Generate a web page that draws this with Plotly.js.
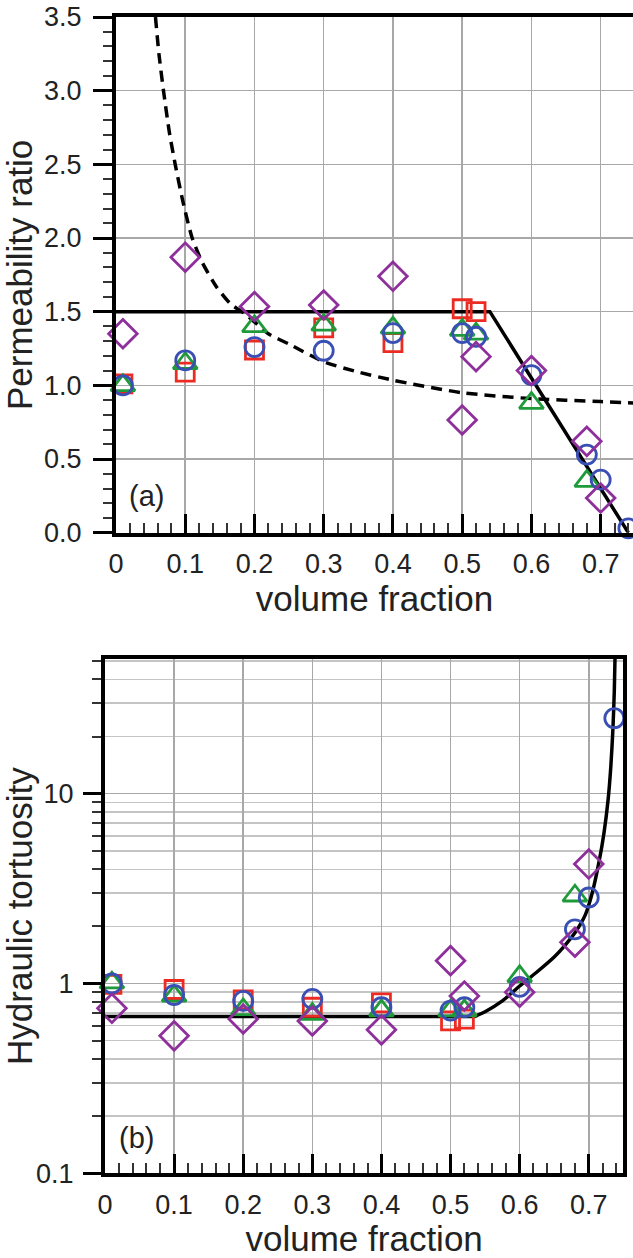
<!DOCTYPE html>
<html>
<head>
<meta charset="utf-8">
<script src="https://cdn.plot.ly/plotly-3.0.1.min.js"></script>
<style>
  html, body { margin: 0; padding: 0; background: #fff; }
  #chart { width: 633px; height: 1258px; }
</style>
</head>
<body>
<div id="chart"></div>
<script>
// ---------- (a) Permeability ratio ----------
const permRedX    = [0.01, 0.1, 0.2, 0.3, 0.4, 0.5, 0.52];
const permRedY    = [1.01, 1.09, 1.24, 1.39, 1.29, 1.52, 1.50];
const permGreenX  = [0.01, 0.1, 0.2, 0.3, 0.4, 0.5, 0.52, 0.6, 0.68];
const permGreenY  = [1.00, 1.15, 1.40, 1.41, 1.39, 1.375, 1.35, 0.88, 0.35];
const permBlueX   = [0.01, 0.1, 0.2, 0.3, 0.4, 0.5, 0.52, 0.6, 0.68, 0.70, 0.74];
const permBlueY   = [1.00, 1.17, 1.26, 1.235, 1.355, 1.355, 1.33, 1.07, 0.53, 0.36, 0.03];
const permPurpleX = [0.01, 0.1, 0.2, 0.3, 0.4, 0.5, 0.52, 0.6, 0.68, 0.70];
const permPurpleY = [1.35, 1.87, 1.535, 1.545, 1.74, 0.765, 1.195, 1.10, 0.62, 0.235];

// solid model line and dashed model curve
const permSolidX = [0.0, 0.54, 0.74];
const permSolidY = [1.5, 1.5, 0.0];
const permDashX  = [0.057, 0.062, 0.0686, 0.077, 0.0855, 0.097, 0.11, 0.125, 0.145, 0.165, 0.188, 0.22, 0.25, 0.30, 0.35, 0.40, 0.50, 0.60, 0.70, 0.75];
const permDashY  = [3.5, 3.25, 3.0, 2.72, 2.5, 2.24, 2.0, 1.83, 1.67, 1.555, 1.48, 1.35, 1.28, 1.16, 1.09, 1.035, 0.95, 0.91, 0.89, 0.88];

// ---------- (b) Hydraulic tortuosity ----------
const tortRedX    = [0.01, 0.1, 0.2, 0.3, 0.4, 0.5, 0.52];
const tortRedY    = [0.99, 0.93, 0.82, 0.75, 0.79, 0.635, 0.65];
const tortGreenX  = [0.01, 0.1, 0.2, 0.3, 0.4, 0.5, 0.52, 0.6, 0.68];
const tortGreenY  = [1.01, 0.86, 0.73, 0.69, 0.72, 0.72, 0.72, 1.09, 2.9];
const tortBlueX   = [0.01, 0.1, 0.2, 0.3, 0.4, 0.5, 0.52, 0.6, 0.68, 0.70, 0.737];
const tortBlueY   = [1.00, 0.87, 0.81, 0.83, 0.75, 0.72, 0.75, 0.96, 1.93, 2.84, 25];
const tortPurpleX = [0.01, 0.1, 0.2, 0.3, 0.4, 0.5, 0.52, 0.6, 0.68, 0.70];
const tortPurpleY = [0.74, 0.53, 0.65, 0.635, 0.57, 1.32, 0.86, 0.90, 1.65, 4.26];

// flat part of the model line, then the rising branch
const tortFlatX  = [0.0, 0.535];
const tortFlatY  = [0.67, 0.67];
const tortRiseX  = [0.535, 0.55, 0.575, 0.60, 0.625, 0.65, 0.665, 0.68, 0.695, 0.705, 0.715, 0.722, 0.728, 0.732, 0.735, 0.737, 0.738];
const tortRiseY  = [0.67, 0.71, 0.81, 0.97, 1.15, 1.38, 1.58, 1.85, 2.3, 3.0, 4.4, 6.2, 9.3, 14, 22, 35, 52];

// tick labels
const xTickVals = [0, 0.1, 0.2, 0.3, 0.4, 0.5, 0.6, 0.7];
const xTickText = ['0', '0.1', '0.2', '0.3', '0.4', '0.5', '0.6', '0.7'];
const permTickVals = [0, 0.5, 1.0, 1.5, 2.0, 2.5, 3.0, 3.5];
const permTickText = ['0.0', '0.5', '1.0', '1.5', '2.0', '2.5', '3.0', '3.5'];
const tortTickVals = [0.1, 1, 10];
const tortTickText = ['0.1', '1', '10'];
const tortMinorVals = [0.2, 0.3, 0.4, 0.5, 0.6, 0.7, 0.8, 0.9, 2, 3, 4, 5, 6, 7, 8, 9, 20, 30, 40, 50];

const RED = '#ec2b22', GREEN = '#1f9a3a', BLUE = '#3a4fb3', PURPLE = '#8e2f9c';
const FONT = 'Liberation Sans, Arial, Helvetica, sans-serif';

function markers(x, y, sym, color, size, xa, ya) {
  return {
    x: x, y: y, xaxis: xa, yaxis: ya, type: 'scatter', mode: 'markers',
    marker: { symbol: sym, size: size, color: color, line: { color: color, width: 2.8 } },
    showlegend: false, hoverinfo: 'x+y', cliponaxis: false
  };
}

const data = [
  { x: permSolidX, y: permSolidY, xaxis: 'x', yaxis: 'y', mode: 'lines', line: { color: '#000', width: 3.5 }, showlegend: false },
  { x: permDashX, y: permDashY, xaxis: 'x', yaxis: 'y', mode: 'lines', line: { color: '#000', width: 3.5, dash: '11px,7px', shape: 'spline', smoothing: 0.6 }, showlegend: false },
  markers(permRedX, permRedY, 'square-open', RED, 18, 'x', 'y'),
  markers(permGreenX, permGreenY, 'triangle-up-open', GREEN, 21, 'x', 'y'),
  markers(permBlueX, permBlueY, 'circle-open', BLUE, 19, 'x', 'y'),
  markers(permPurpleX, permPurpleY, 'diamond-open', PURPLE, 22, 'x', 'y'),

  { x: tortFlatX, y: tortFlatY, xaxis: 'x2', yaxis: 'y2', mode: 'lines', line: { color: '#000', width: 3.5 }, showlegend: false },
  { x: tortRiseX, y: tortRiseY, xaxis: 'x2', yaxis: 'y2', mode: 'lines', line: { color: '#000', width: 3.5, shape: 'spline', smoothing: 0.6 }, showlegend: false },
  markers(tortRedX, tortRedY, 'square-open', RED, 18, 'x2', 'y2'),
  markers(tortGreenX, tortGreenY, 'triangle-up-open', GREEN, 21, 'x2', 'y2'),
  markers(tortBlueX, tortBlueY, 'circle-open', BLUE, 19, 'x2', 'y2'),
  markers(tortPurpleX, tortPurpleY, 'diamond-open', PURPLE, 22, 'x2', 'y2')
];

const W = 633, H = 1258;
const gridCol = '#a8a8a8';

function xAxisCommon(range, domain, anchor) {
  return {
    range: range, domain: domain, anchor: anchor,
    tickmode: 'array', tickvals: xTickVals, ticktext: xTickText,
    ticks: 'inside', ticklen: 19, tickwidth: 3, tickcolor: '#000',
    showline: true, linecolor: '#000', linewidth: 4, mirror: true,
    showgrid: true, gridcolor: gridCol, gridwidth: 1.5,
    zeroline: false,
    tickfont: { family: FONT, size: 27, color: '#222' },
    ticklabelstandoff: 4,
    minor: { dtick: 0.02, tick0: 0, ticks: 'inside', ticklen: 10, tickwidth: 2, tickcolor: '#333', showgrid: false },
    title: { text: 'volume fraction', font: { family: FONT, size: 35, color: '#222' }, standoff: 6 },
    automargin: false
  };
}

const layout = {
  width: W, height: H,
  margin: { l: 0, r: 0, t: 0, b: 0, pad: 0 },
  paper_bgcolor: '#fff', plot_bgcolor: '#fff',
  showlegend: false,
  xaxis: xAxisCommon([0, 0.7467], [116 / W, 1], 'y'),
  yaxis: {
    range: [0, 3.5], domain: [(H - 532.7) / H, (H - 17) / H], anchor: 'x',
    tickmode: 'array', tickvals: permTickVals, ticktext: permTickText,
    ticks: 'outside', ticklen: 19, tickwidth: 3, tickcolor: '#000',
    showline: true, linecolor: '#000', linewidth: 4, mirror: false,
    showgrid: true, gridcolor: gridCol, gridwidth: 1.5,
    zeroline: false,
    tickfont: { family: FONT, size: 27, color: '#222' },
    ticklabelstandoff: 6,
    minor: { dtick: 0.1, tick0: 0, ticks: 'outside', ticklen: 9, tickwidth: 2, tickcolor: '#333', showgrid: false },
    title: { text: 'Permeability ratio', font: { family: FONT, size: 35, color: '#222' }, standoff: 8 },
    automargin: false
  },
  xaxis2: xAxisCommon([0, 0.75], [105 / W, 623.3 / W], 'y2'),
  yaxis2: {
    type: 'log', range: [-1, 1.71], domain: [(H - 1173.3) / H, (H - 659) / H], anchor: 'x2',
    tickmode: 'array', tickvals: tortTickVals, ticktext: tortTickText,
    ticks: 'outside', ticklen: 18, tickwidth: 3, tickcolor: '#000',
    showline: true, linecolor: '#000', linewidth: 4, mirror: true,
    showgrid: true, gridcolor: gridCol, gridwidth: 1.5,
    zeroline: false,
    tickfont: { family: FONT, size: 27, color: '#222' },
    ticklabelstandoff: 4,
    minor: { tickmode: 'array', tickvals: tortMinorVals, ticks: 'outside', ticklen: 9, tickwidth: 2, tickcolor: '#333', showgrid: true, gridcolor: '#c4c4c4', gridwidth: 1.5 },
    title: { text: 'Hydraulic tortuosity', font: { family: FONT, size: 35, color: '#222' }, standoff: 10 },
    automargin: false
  },
  annotations: [
    { text: '(a)', xref: 'x', yref: 'y', x: 0.044, y: 0.25, showarrow: false, font: { family: FONT, size: 29, color: '#222' } },
    // on a log axis annotation y is given as log10 of the value
    { text: '(b)', xref: 'x2', yref: 'y2', x: 0.045, y: -0.816, showarrow: false, font: { family: FONT, size: 29, color: '#222' } }
  ]
};

Plotly.newPlot('chart', data, layout, { staticPlot: true, displayModeBar: false });
</script>
</body>
</html>
